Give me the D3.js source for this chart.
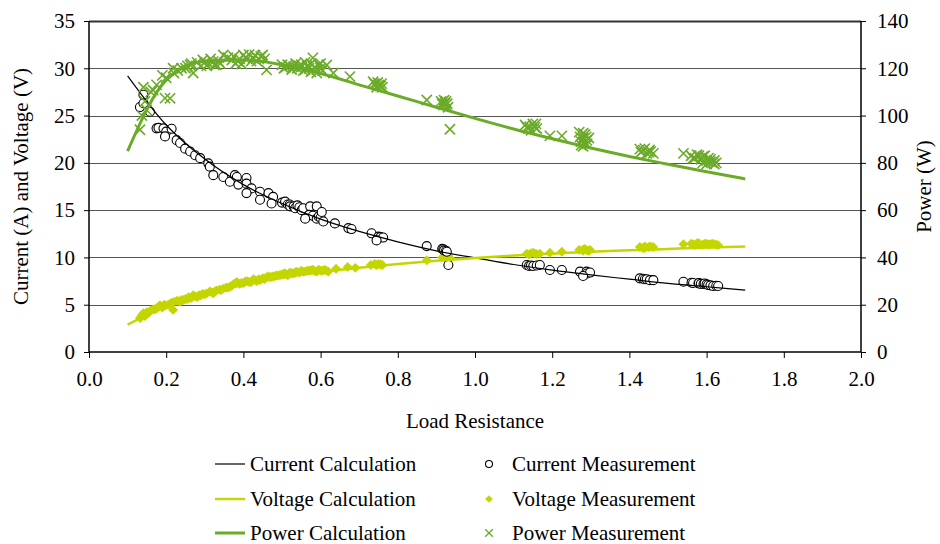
<!DOCTYPE html>
<html>
<head>
<meta charset="utf-8">
<script src="https://cdn.jsdelivr.net/npm/d3@7"></script>
<style>
body { margin: 0; background: #fff; }
</style>
</head>
<body>
<div id="chart"></div>
<script>
// calculated curves at 0.1 steps
var calcR = [0.1, 0.2, 0.3, 0.4, 0.5, 0.6, 0.7, 0.8, 0.9, 1.0, 1.1, 1.2, 1.3, 1.4, 1.5, 1.6, 1.7];
var currentCalc = [29.2, 24.0, 20.4, 17.7, 15.7, 14.05, 12.75, 11.65, 10.7, 9.95, 9.25, 8.65, 8.15, 7.7, 7.25, 6.9, 6.55];
var voltageCalc = [2.9, 4.8, 6.1, 7.1, 7.85, 8.45, 8.9, 9.3, 9.65, 9.95, 10.2, 10.4, 10.6, 10.75, 10.9, 11.05, 11.15];
var powerCalc = [85, 115, 123, 123.5, 121.5, 117.8, 113, 108.3, 103.5, 98.8, 94.3, 90.2, 86.3, 82.7, 79.4, 76.2, 73.2];

// measurements [load resistance, value]
var currentMeas = [[0.141,27.2],[0.132,25.9],[0.141,26.3],[0.158,25.4],[0.175,23.65],[0.18,23.7],[0.193,23.65],[0.2,23.3],
  [0.214,23.6],[0.197,22.8],[0.227,22.4],[0.236,22.1],[0.249,21.5],[0.262,21.2],[0.275,20.8],[0.288,20.5],[0.309,19.95],
  [0.313,19.6],[0.322,18.7],[0.348,18.5],[0.365,18.0],[0.378,18.7],[0.383,18.5],[0.387,17.7],[0.408,18.4],[0.408,17.8],
  [0.421,17.3],[0.408,16.8],[0.443,16.95],[0.465,16.8],[0.477,16.4],[0.443,16.1],[0.473,15.7],[0.5,15.8],[0.508,15.9],
  [0.515,15.6],[0.52,15.6],[0.521,15.4],[0.53,15.4],[0.534,15.2],[0.54,15.5],[0.545,15.3],[0.551,15.0],[0.555,15.2],
  [0.573,15.4],[0.59,15.4],[0.57,14.5],[0.58,14.4],[0.56,14.1],[0.59,14.1],[0.595,14.3],[0.6,14.2],[0.607,13.8],
  [0.603,14.8],[0.637,13.6],[0.672,13.1],[0.68,13.0],[0.732,12.55],[0.75,12.2],[0.755,12.15],[0.762,12.1],[0.745,11.8],
  [0.875,11.2],[0.915,10.9],[0.918,10.86],[0.92,10.75],[0.925,10.7],[0.927,10.6],[0.931,9.2],[1.134,9.2],[1.14,9.1],
  [1.145,9.15],[1.151,9.1],[1.16,9.15],[1.168,9.2],[1.194,8.67],[1.225,8.67],[1.272,8.5],[1.289,8.5],[1.29,8.3],
  [1.298,8.4],[1.28,8.04],[1.427,7.79],[1.435,7.75],[1.44,7.69],[1.445,7.7],[1.453,7.6],[1.462,7.6],[1.54,7.43],
  [1.561,7.33],[1.565,7.3],[1.579,7.26],[1.58,7.3],[1.585,7.2],[1.592,7.19],[1.595,7.25],[1.6,7.15],[1.604,7.08],
  [1.61,7.05],[1.617,6.98],[1.625,7.0],[1.63,6.98]];

var voltageMeas = [[0.132,3.6],[0.135,3.7],[0.137,3.9],[0.141,4.1],[0.143,3.95],[0.145,3.8],[0.148,4.0],[0.15,4.2],
  [0.153,4.1],[0.158,4.3],[0.16,4.4],[0.165,4.5],[0.17,4.5],[0.175,4.6],[0.18,4.8],[0.184,4.95],[0.19,4.7],[0.195,5.0],
  [0.197,4.9],[0.205,5.0],[0.21,5.1],[0.214,5.2],[0.218,4.45],[0.22,5.3],[0.227,5.4],[0.232,5.4],[0.236,5.3],[0.24,5.5],
  [0.245,5.5],[0.25,5.6],[0.255,5.6],[0.258,5.8],[0.262,5.7],[0.266,5.75],[0.27,6.0],[0.275,5.9],[0.28,5.8],[0.285,6.0],
  [0.29,6.0],[0.295,6.15],[0.3,6.1],[0.305,6.2],[0.313,6.4],[0.318,6.3],[0.322,6.2],[0.326,6.4],[0.33,6.5],[0.338,6.6],
  [0.342,6.55],[0.348,6.7],[0.355,6.8],[0.36,6.8],[0.365,6.9],[0.37,7.0],[0.375,7.2],[0.38,7.3],[0.383,7.4],[0.39,7.2],
  [0.395,7.3],[0.4,7.3],[0.405,7.45],[0.41,7.5],[0.415,7.4],[0.42,7.4],[0.426,7.7],[0.43,7.6],[0.435,7.5],[0.44,7.7],
  [0.443,7.6],[0.45,7.8],[0.455,7.7],[0.46,7.9],[0.465,8.0],[0.47,7.9],[0.475,8.0],[0.48,8.0],[0.485,8.1],[0.49,8.1],
  [0.495,8.15],[0.5,8.2],[0.505,8.3],[0.508,8.3],[0.515,8.1],[0.52,8.4],[0.525,8.35],[0.53,8.3],[0.535,8.45],[0.538,8.5],
  [0.545,8.4],[0.55,8.6],[0.555,8.5],[0.56,8.5],[0.565,8.6],[0.57,8.6],[0.575,8.65],[0.58,8.7],[0.585,8.55],[0.59,8.5],
  [0.595,8.7],[0.6,8.6],[0.605,8.6],[0.61,8.7],[0.615,8.6],[0.62,8.5],[0.64,8.8],[0.67,9.0],[0.69,8.9],[0.73,9.2],
  [0.74,9.3],[0.745,9.2],[0.75,9.3],[0.755,9.25],[0.76,9.2],[0.875,9.7],[0.915,10.0],[0.92,10.1],[0.925,9.9],[0.93,10.2],
  [0.935,9.95],[1.134,10.4],[1.14,10.3],[1.145,10.45],[1.151,10.5],[1.155,10.4],[1.16,10.35],[1.168,10.4],[1.194,10.5],
  [1.225,10.6],[1.27,10.8],[1.28,10.7],[1.28,10.85],[1.285,10.9],[1.29,10.75],[1.295,10.7],[1.298,10.8],[1.427,11.1],
  [1.435,11.0],[1.44,11.15],[1.44,11.0],[1.45,11.1],[1.455,11.15],[1.462,11.1],[1.54,11.4],[1.56,11.45],[1.565,11.4],
  [1.57,11.3],[1.575,11.5],[1.58,11.5],[1.59,11.35],[1.595,11.45],[1.6,11.45],[1.605,11.35],[1.61,11.4],[1.615,11.45],
  [1.62,11.4],[1.625,11.35],[1.63,11.3]];

var powerMeas = [[0.132,94],[0.137,100],[0.141,112],[0.145,106],[0.149,102.4],[0.16,110],[0.166,110.8],[0.175,113],
  [0.197,107.4],[0.21,107.3],[0.19,117],[0.2,116],[0.218,120],[0.22,118],[0.23,119],[0.24,120],[0.25,120],[0.255,121],
  [0.262,121.4],[0.265,122],[0.27,118],[0.28,122.5],[0.29,121],[0.295,123.5],[0.3,122.5],[0.305,121],[0.31,122],
  [0.315,124],[0.322,122.8],[0.325,121.5],[0.33,121.5],[0.335,123],[0.34,122],[0.348,125.6],[0.36,124.5],[0.37,123.5],
  [0.375,125],[0.38,122],[0.385,123],[0.39,124],[0.395,121.8],[0.4,125.6],[0.405,124.5],[0.41,124],[0.415,125.8],
  [0.42,123],[0.425,124.2],[0.43,125.5],[0.435,123],[0.44,124],[0.445,125],[0.45,125.6],[0.455,124],[0.46,119.3],
  [0.5,121.5],[0.505,120],[0.51,120.5],[0.515,121.5],[0.52,121],[0.525,119.5],[0.53,120.7],[0.535,122],[0.54,120],
  [0.545,121],[0.55,121.5],[0.55,120.5],[0.555,119],[0.56,122.5],[0.56,119.5],[0.565,121],[0.57,120],[0.575,122],
  [0.575,118.5],[0.58,124.4],[0.585,120.5],[0.59,119.5],[0.59,118],[0.595,121.5],[0.6,120],[0.6,122],[0.605,119],
  [0.616,121.4],[0.633,118],[0.676,116.5],[0.736,114.3],[0.74,113.5],[0.745,112],[0.748,114],[0.75,113],[0.755,112.5],
  [0.758,113.5],[0.76,112],[0.875,106.6],[0.912,106],[0.915,105],[0.918,104.5],[0.92,106.5],[0.922,105.3],[0.925,106],
  [0.928,105],[0.93,103.5],[0.935,94.2],[1.13,96],[1.134,95],[1.138,94.5],[1.142,95.3],[1.145,93.8],[1.15,96.5],
  [1.155,95],[1.158,96.5],[1.16,94.5],[1.194,91.4],[1.225,91.4],[1.27,93],[1.272,91],[1.275,89],[1.275,87.5],
  [1.28,90.4],[1.28,92.5],[1.283,88.5],[1.285,92],[1.288,91],[1.29,88],[1.29,89.5],[1.28,87],[1.295,90.5],
  [1.427,85.8],[1.43,84.5],[1.436,85.4],[1.44,86],[1.445,84],[1.45,84.5],[1.452,85.5],[1.455,84.8],[1.462,84],
  [1.54,84],[1.56,83],[1.565,82],[1.57,82],[1.575,83.5],[1.58,83],[1.585,81.5],[1.59,82.6],[1.59,80],[1.595,83],
  [1.6,81],[1.6,79.5],[1.605,82],[1.61,80.5],[1.61,81.5],[1.615,80],[1.62,79.5],[1.62,81],[1.625,80]];

var xTicks = [0, 0.2, 0.4, 0.6, 0.8, 1.0, 1.2, 1.4, 1.6, 1.8, 2.0];
var leftTicks = [0, 5, 10, 15, 20, 25, 30, 35];
var rightTicks = [0, 20, 40, 60, 80, 100, 120, 140];

var black = "#000", voltColor = "#c4d600", powerColor = "#6aab28";
var font = "'Times New Roman', 'Liberation Serif', 'DejaVu Serif', serif";
var fontSize = "21px";

var width = 940, height = 544;
var plotLeft = 89, plotRight = 861, plotTop = 21, plotBottom = 352;

var svg = d3.select("#chart").append("svg")
    .attr("width", width)
    .attr("height", height);

var x = d3.scaleLinear().domain([0, 2]).range([plotLeft, plotRight]);
var yL = d3.scaleLinear().domain([0, 35]).range([plotBottom, plotTop]);
var yR = d3.scaleLinear().domain([0, 140]).range([plotBottom, plotTop]);

function label(sel) {
    sel.attr("font-family", font)
        .attr("font-size", fontSize)
        .attr("fill", "#000");
}

// grid
svg.append("g").selectAll("line")
    .data(leftTicks.slice(1))
    .enter().append("line")
    .attr("x1", plotLeft).attr("x2", plotRight)
    .attr("y1", function(d) { return Math.round(yL(d)) + 0.5; })
    .attr("y2", function(d) { return Math.round(yL(d)) + 0.5; })
    .attr("stroke", function(d) { return d == 35 ? "#333" : "#555"; })
    .attr("stroke-width", function(d) { return d == 35 ? 2 : 1; });

// axes
var xAxis = svg.append("g")
    .attr("transform", "translate(0," + plotBottom + ")")
    .call(d3.axisBottom(x).tickValues(xTicks).tickFormat(d3.format(".1f")).tickSize(6).tickPadding(13));
var lAxis = svg.append("g")
    .attr("transform", "translate(" + plotLeft + ",0)")
    .call(d3.axisLeft(yL).tickValues(leftTicks).tickSize(5).tickPadding(9));
var rAxis = svg.append("g")
    .attr("transform", "translate(" + plotRight + ",0)")
    .call(d3.axisRight(yR).tickValues(rightTicks).tickSize(5).tickPadding(11));

[xAxis, lAxis, rAxis].forEach(function(a) {
    a.attr("font-family", null).attr("font-size", null);
    a.selectAll("path").attr("stroke", "#000").attr("stroke-width", 1.5);
    a.selectAll("line").attr("stroke", "#000");
    a.selectAll("text").call(label);
});
xAxis.select("path").attr("d", "M" + plotLeft + ",0H" + plotRight);
lAxis.select("path").attr("d", "M0," + plotBottom + "V" + plotTop);
rAxis.select("path").attr("d", "M0," + plotBottom + "V" + plotTop);

// axis titles
svg.append("text")
    .attr("x", 475)
    .attr("y", 428)
    .attr("text-anchor", "middle")
    .call(label)
    .text("Load Resistance");
svg.append("text")
    .attr("transform", "translate(28," + (plotTop + plotBottom) / 2 + ") rotate(-90)")
    .attr("text-anchor", "middle")
    .call(label)
    .text("Current (A) and Voltage (V)");
svg.append("text")
    .attr("transform", "translate(931," + (plotTop + plotBottom) / 2 + ") rotate(-90)")
    .attr("text-anchor", "middle")
    .call(label)
    .text("Power (W)");

function calcLine(ys, yScale) {
    return d3.line()
        .x(function(d, i) { return x(calcR[i]); })
        .y(function(d) { return yScale(d); })
        .curve(d3.curveMonotoneX)(ys);
}

var diamond = d3.symbol().type(d3.symbolDiamond2).size(62);
var cross = d3.symbol().type(d3.symbolX).size(70);

var plot = svg.append("g");

// voltage measurements
plot.append("g").selectAll("path")
    .data(voltageMeas)
    .enter().append("path")
    .attr("d", diamond)
    .attr("transform", function(d) { return "translate(" + x(d[0]) + "," + yL(d[1]) + ")"; })
    .attr("fill", voltColor);

// current measurements
plot.append("g").selectAll("circle")
    .data(currentMeas)
    .enter().append("circle")
    .attr("cx", function(d) { return x(d[0]); })
    .attr("cy", function(d) { return yL(d[1]); })
    .attr("r", 4.5)
    .attr("fill", "#fff")
    .attr("stroke", black)
    .attr("stroke-width", 1.1);

// calculated lines
plot.append("path")
    .attr("d", calcLine(currentCalc, yL))
    .attr("fill", "none").attr("stroke", black).attr("stroke-width", 1.2);
plot.append("path")
    .attr("d", calcLine(voltageCalc, yL))
    .attr("fill", "none").attr("stroke", voltColor).attr("stroke-width", 2.5);
plot.append("path")
    .attr("d", calcLine(powerCalc, yR))
    .attr("fill", "none").attr("stroke", powerColor).attr("stroke-width", 3);

// power measurements
plot.append("g").selectAll("path")
    .data(powerMeas)
    .enter().append("path")
    .attr("d", cross)
    .attr("transform", function(d) { return "translate(" + x(d[0]) + "," + yR(d[1]) + ")"; })
    .attr("fill", "none")
    .attr("stroke", powerColor)
    .attr("stroke-width", 1.6);

// legend
var rows = [464, 499, 533];
var legendLines = [
    {name: "Current Calculation", color: black, w: 1.2},
    {name: "Voltage Calculation", color: voltColor, w: 2.5},
    {name: "Power Calculation", color: powerColor, w: 3}
];
var legendMarks = ["Current Measurement", "Voltage Measurement", "Power Measurement"];

var legend = svg.append("g");
legendLines.forEach(function(l, i) {
    legend.append("line")
        .attr("x1", 215).attr("x2", 245)
        .attr("y1", rows[i]).attr("y2", rows[i])
        .attr("stroke", l.color).attr("stroke-width", l.w);
    legend.append("text")
        .attr("x", 250).attr("y", rows[i] + 7)
        .call(label)
        .text(l.name);
});
legend.append("circle")
    .attr("cx", 489).attr("cy", rows[0]).attr("r", 3.5)
    .attr("fill", "#fff").attr("stroke", black).attr("stroke-width", 1.1);
legend.append("path")
    .attr("d", d3.symbol().type(d3.symbolDiamond2).size(38))
    .attr("transform", "translate(489," + rows[1] + ")")
    .attr("fill", voltColor);
legend.append("path")
    .attr("d", d3.symbol().type(d3.symbolX).size(40))
    .attr("transform", "translate(489," + rows[2] + ")")
    .attr("fill", "none").attr("stroke", powerColor).attr("stroke-width", 1.3);
legendMarks.forEach(function(name, i) {
    legend.append("text")
        .attr("x", 512).attr("y", rows[i] + 7)
        .call(label)
        .text(name);
});
</script>
</body>
</html>
